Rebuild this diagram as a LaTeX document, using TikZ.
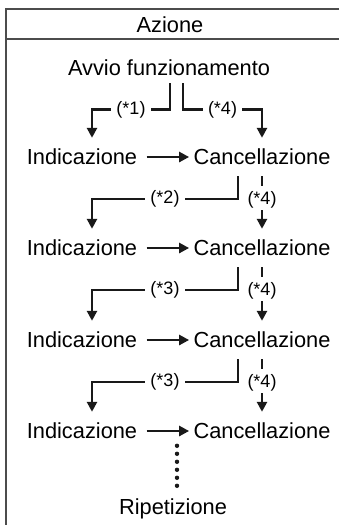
\documentclass[tikz,border=0pt]{standalone}
\usepackage{fontspec}
\setmainfont{Liberation Sans}
\usepackage{tikz}
\usetikzlibrary{arrows.meta}
\tikzset{every node/.style={font=\fontsize{10.9}{13}\selectfont}}
\colorlet{framecol}{black!70}
\colorlet{flowcol}{black!90}
\colorlet{textcol}{black}
\tikzset{
  stage/.style={inner xsep=2pt, inner ysep=5.5pt, text height=7.8pt, text depth=0pt, text=textcol},
  flow/.style={->, line width=1.25pt, flowcol},
  tag/.style={fill=white, inner xsep=2.5pt, inner ysep=1pt, text=textcol, font=\fontsize{9}{11}\selectfont},
  dashline/.style={dash pattern=on 5pt off 2pt on 40pt off 0pt},
  dotline/.style={line width=2.2pt, line cap=round, dash pattern=on 0pt off 4pt, flowcol},
  frameline/.style={line width=1pt, framecol},
}

\begin{document}
\begin{tikzpicture}[x=0.5pt, y=-0.5pt, >={Triangle[width=5pt,length=5pt]}]
  \useasboundingbox (0,0) rectangle (339,525);

  % Frame and header.
  \draw[frameline] (339,8.5) -- (6,8.5) -- (6,525);
  \draw[frameline] (6,39) -- (339,39);
  \node[stage] (azione) at (170,25) {Azione};

  % Start.
  \node[stage, inner ysep=3.6pt] (avvio) at (169,68) {Avvio funzionamento};

  % Rows: Indicazione -> Cancellazione.
  \foreach \i/\y in {1/157, 2/248, 3/340, 4/431} {
    \node[stage] (ind\i) at (82,\y) {Indicazione};
    \node[stage] (canc\i) at (262,\y) {Cancellazione};
    \draw[flow, shorten <=2.5pt] (ind\i) -- (canc\i);
  }

  % Branches from the start.
  \draw[flow] ([xshift=0.5pt]avvio.south) -- ++(0,26)
    -| node[tag, pos=0.25] {(*1)} ([xshift=5pt]ind1.north);
  \draw[flow] ([xshift=7pt]avvio.south) -- ++(0,26)
    -| node[tag, pos=0.25] {(*4)} (canc1.north);

  % Branches between rows.
  \foreach \i/\j/\t in {1/2/2, 2/3/3, 3/4/3} {
    \draw[flow] ([xshift=-12pt]canc\i.south) -- ++(0,23)
      -| node[tag, pos=0.25] {(*\t)} ([xshift=5pt]ind\j.north);
    \draw[flow, dashline] (canc\i.south)
      -- node[tag, pos=0.44, inner xsep=1pt] {(*4)} (canc\j.north);
  }

  % Repetition.
  \node[stage] (rip) at (173,507) {Ripetizione};
  \draw[dotline] ([xshift=2pt,yshift=1pt]rip.north) -- ++(0,-40.6);

\end{tikzpicture}
\end{document}
